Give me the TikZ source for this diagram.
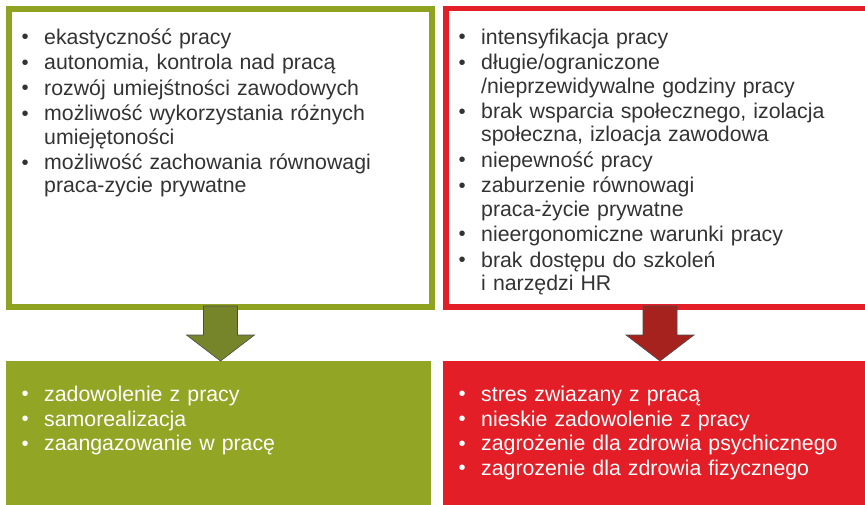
\documentclass[tikz,border=0pt]{standalone}
\usepackage{fontspec}
\setmainfont{Liberation Sans}
\usetikzlibrary{calc,positioning}
\definecolor{oliveline}{HTML}{8FA320}
\definecolor{olivefill}{HTML}{93A524}
\definecolor{olivearrow}{HTML}{77852A}
\definecolor{redline}{HTML}{E31E26}
\definecolor{redfill}{HTML}{E31E26}
\definecolor{redarrow}{HTML}{A6221F}
\definecolor{txtgray}{HTML}{333333}
\newcommand{\bul}[1]{\hangindent=22.5pt\hangafter=1\noindent\hbox to 22.5pt{\raisebox{0.05ex}{\scalebox{0.95}{\textbullet}}\hfil}#1\par}

\begin{document}
\begin{tikzpicture}[x=1pt,y=-1pt]
\tikzset{topbox/.style={draw,fill=white,inner sep=0pt,outer sep=0pt},
  botbox/.style={inner sep=0pt,outer sep=0pt},
  blist/.style={anchor=base west,inner sep=0pt,text width=400pt,align=left,
    font=\fontsize{21.3}{23.2}\selectfont},
  barrow/.style={line width=0.6pt,draw=black!70}}
\useasboundingbox (0,0) rectangle (865,504);
% boxes
\node[topbox,draw=oliveline,line width=6pt,minimum width=423pt,minimum height=298pt] (gtop) at (220.5,158) {};
\node[topbox,draw=redline,line width=5.5pt,minimum width=428pt,minimum height=298.5pt] (rtop) at (660,157.75) {};
\node[botbox,fill=olivefill,minimum width=425pt,minimum height=149pt] (gbot) at (218.5,435.5) {};
\node[botbox,fill=redfill,minimum width=434pt,minimum height=149pt] (rbot) at (660,435.5) {};
% lists
\node[blist,text=txtgray] (glist) at (21.5,44.4) {\setlength{\parskip}{2.3pt}%
\bul{ekastyczność pracy}
\bul{autonomia, kontrola nad pracą}
\bul{rozwój umiejśtności zawodowych}
\bul{możliwość wykorzystania różnych\newline umiejętoności}
\bul{możliwość zachowania równowagi\newline praca-zycie prywatne}};
\node[blist,text=txtgray] (rlist) at (458.5,44.4) {\setlength{\parskip}{2.3pt}%
\bul{intensyfikacja pracy}
\bul{długie/ograniczone\newline /nieprzewidywalne godziny pracy}
\bul{brak wsparcia społecznego, izolacja\newline społeczna, izloacja zawodowa}
\bul{niepewność pracy}
\bul{zaburzenie równowagi\newline praca-życie prywatne}
\bul{nieergonomiczne warunki pracy}
\bul{brak dostępu do szkoleń\newline i narzędzi HR}};
\node[blist,text=white] (gres) at (21.5,401.4) {\setlength{\parskip}{1.5pt}%
\bul{zadowolenie z pracy}
\bul{samorealizacja}
\bul{zaangazowanie w pracę}};
\node[blist,text=white] (rres) at (458.5,401.4) {\setlength{\parskip}{1.5pt}%
\bul{stres zwiazany z pracą}
\bul{nieskie zadowolenie z pracy}
\bul{zagrożenie dla zdrowia psychicznego}
\bul{zagrozenie dla zdrowia fizycznego}};
% arrows
\coordinate (gtip) at (gtop.south |- gbot.north);
\coordinate (rtip) at (rtop.south |- rbot.north);
\filldraw[barrow,fill=olivearrow] ($(gtop.south)+(-17,-1)$) -- ($(gtop.south)+(17,-1)$)
  -- ($(gtip)+(17,-26)$) -- ($(gtip)+(34,-26)$) -- (gtip)
  -- ($(gtip)+(-34,-26)$) -- ($(gtip)+(-17,-26)$) -- cycle;
\filldraw[barrow,fill=redarrow] ($(rtop.south)+(-17,-1)$) -- ($(rtop.south)+(17,-1)$)
  -- ($(rtip)+(17,-26)$) -- ($(rtip)+(34,-26)$) -- (rtip)
  -- ($(rtip)+(-34,-26)$) -- ($(rtip)+(-17,-26)$) -- cycle;
\end{tikzpicture}
\end{document}
